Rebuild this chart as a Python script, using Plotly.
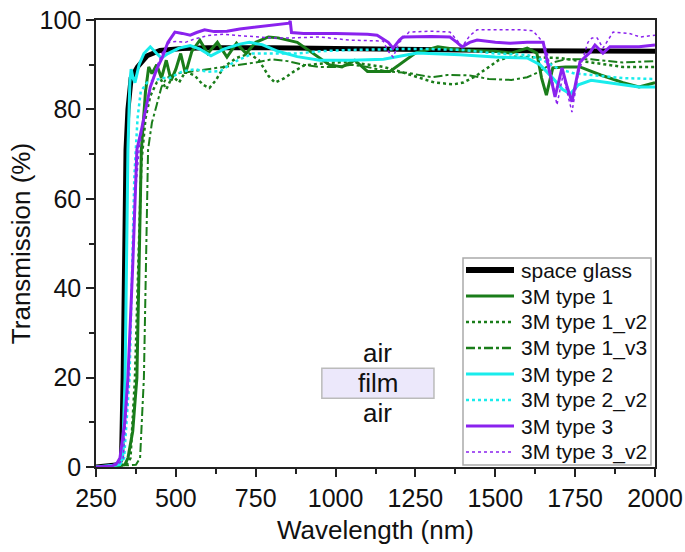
import plotly.graph_objects as go

# Transmission spectra (wavelength in nm, transmission in %)
wl_glass = [250, 300, 320, 330, 335, 344, 350, 360, 380, 410, 450, 520, 600, 800, 1000, 1200, 1400, 1600, 1800, 2000]
t_glass = [0, 0.2, 0.5, 2, 20, 71, 80, 87, 89.5, 92, 93.2, 93.6, 93.8, 93.8, 93.7, 93.5, 93.3, 93.1, 93.0, 93.0]

wl_t1 = [250, 340, 350, 365, 378, 392, 405, 415, 425, 440, 455, 470, 485, 500, 515, 530, 550, 575, 600,
         630, 660, 690, 720, 750, 790, 820, 880, 930, 980, 1020, 1060, 1100, 1170, 1250, 1320, 1390, 1500,
         1550, 1600, 1630, 1645, 1660, 1680, 1720, 1765, 1830, 1900, 1950, 2000]
t_t1 = [0, 0.5, 2, 8, 20, 71, 84, 89.5, 88, 90, 87, 91, 86.5, 89, 92.5, 88, 93, 95.5, 92.5,
        95, 91.7, 94.8, 92.5, 95, 96.2, 96, 95, 92.5, 90, 89.5, 91, 88.5, 88.5, 92.6, 94, 93.3, 93,
        92.6, 93.7, 92.6, 87, 83.2, 89.3, 89.5, 89.5, 87.7, 86, 85, 86]

wl_t1v2 = [250, 345, 358, 372, 392, 405, 420, 440, 455, 470, 490, 510, 530, 560, 585, 605, 625, 650, 690,
           730, 760, 790, 810, 840, 870, 900, 950, 1000, 1045, 1110, 1150, 1200, 1250, 1310, 1370, 1400,
           1440, 1480, 1510, 1550, 1600, 1700, 1800, 1850, 1900, 2000]
t_t1v2 = [0, 0.5, 2, 20, 68, 78, 83, 86, 86.5, 84.5, 87.5, 86, 88.5, 87.5, 85.5, 84.8, 86.5, 89.5, 91.5,
          92.5, 91, 87.5, 86, 87, 88.5, 89.8, 90.2, 90.5, 90.6, 90, 89.5, 88.5, 87.3, 86, 85.6, 86,
          87.5, 89.5, 91, 91.8, 91.7, 91.5, 90.5, 90, 89.5, 89.5]

wl_t1v3 = [250, 375, 388, 400, 413, 425, 440, 455, 470, 500, 550, 600, 650, 700, 750, 800, 850, 900, 950,
           1000, 1050, 1100, 1160, 1223, 1300, 1350, 1420, 1480, 1550, 1600, 1640, 1680, 1720, 1800, 1900, 2000]
t_t1v3 = [0, 0.5, 2, 20, 71, 77, 81, 85, 87, 88, 88.5, 89, 89.5, 90, 90.5, 91.2, 90.8, 90, 89.5,
          89.5, 90, 89.5, 88.5, 88.2, 87.2, 87.7, 87.6, 86.8, 86.6, 87.2, 88.5, 90.5, 91.2, 91.2, 90.5, 90.8]

wl_t2 = [250, 322, 333, 341, 350, 356, 360, 366, 372, 385, 400, 420, 440, 455, 475, 510, 545, 575, 610,
         650, 700, 730, 770, 820, 880, 950, 1050, 1150, 1255, 1390, 1500, 1600, 1640, 1680, 1710, 1735,
         1760, 1800, 1850, 1950, 2000]
t_t2 = [0, 0.5, 2, 20, 71, 86, 89, 87, 86, 90, 92.5, 94, 92.5, 91.5, 92.5, 93.7, 94.3, 93.5, 92,
        93.5, 94.6, 95, 94.5, 93, 91.8, 91, 91, 91.2, 92.6, 92.2, 91.7, 91.5, 90, 87, 84.5, 83.5,
        85.5, 86.5, 86, 85, 85]

wl_t2v2 = [250, 325, 338, 355, 370, 380, 390, 410, 430, 460, 480, 520, 560, 600, 640, 680, 740, 800,
           880, 950, 1050, 1200, 1300, 1400, 1500, 1600, 1650, 1700, 1750, 1800, 1900, 2000]
t_t2v2 = [0, 0.5, 2, 20, 65, 78, 84, 86, 86.5, 87, 87, 88.5, 89, 88.4, 88.6, 90.5, 92.5, 92.5,
          92.5, 93, 93.3, 93.5, 93.5, 93.3, 92.5, 92.2, 91, 89, 88, 87.7, 87, 86.8]

wl_t3 = [250, 300, 315, 325, 340, 350, 365, 378, 394, 420, 440, 457, 475, 497, 520, 545, 565, 590, 620,
         660, 700, 760, 820, 855, 858, 862, 900, 1000, 1100, 1130, 1165, 1180, 1200, 1211, 1300, 1358,
         1380, 1396, 1420, 1443, 1500, 1546, 1600, 1650, 1665, 1687, 1709, 1725, 1740, 1765, 1797, 1812,
         1837, 1859, 1891, 1950, 2000]
t_t3 = [0, 0.2, 0.8, 2, 10, 20, 45, 71, 76, 85, 89, 91.5, 95, 97.3, 97, 96.6, 97.2, 97.8, 97.4,
        97.5, 98, 98.5, 99, 99.3, 99.8, 97.2, 97, 97, 96.8, 96.6, 95, 93.7, 95.5, 96.2, 96.3, 96.2,
        95, 94, 95, 95.5, 95, 94.8, 95, 95, 90, 82.8, 89.3, 85, 81.7, 90.6, 92.8, 94.4,
        92.6, 94, 94, 94, 94.4]

wl_t3v2 = [250, 320, 335, 352, 372, 385, 400, 420, 440, 460, 480, 500, 530, 560, 600, 650, 700, 750, 800,
           864, 950, 1045, 1149, 1165, 1180, 1200, 1230, 1300, 1358, 1380, 1396, 1420, 1443, 1515, 1578,
           1618, 1650, 1662, 1693, 1712, 1740, 1760, 1790, 1803, 1819, 1837, 1869, 1920, 1953, 2000]
t_t3v2 = [0, 0.5, 2, 20, 60, 71, 78, 85, 89.5, 93, 95, 95.2, 95, 95.8, 96.5, 96.8, 96.5, 96.2, 96,
          96, 96.2, 95.5, 95.3, 93, 91.7, 95, 97.3, 97.5, 97.3, 95.5, 94, 96.5, 97.8, 97.8, 97.8,
          97.6, 95, 92.8, 81, 87.7, 79.4, 88, 95, 96, 96, 93.7, 97.3, 97, 96.2, 96.6]

GREEN = "#1a7d1a"
CYAN = "#19ecec"
PURPLE = "#8a22ee"

# name, x, y, trace line style, key-sample line width
series = [
    ("space glass", wl_glass, t_glass, dict(color="black", width=5, dash="solid"), 6),
    ("3M type 1", wl_t1, t_t1, dict(color=GREEN, width=3, dash="solid"), 3),
    ("3M type 1_v2", wl_t1v2, t_t1v2, dict(color=GREEN, width=2.5, dash="dot"), 2.5),
    ("3M type 1_v3", wl_t1v3, t_t1v3, dict(color=GREEN, width=2, dash="dashdot"), 2.5),
    ("3M type 2", wl_t2, t_t2, dict(color=CYAN, width=3, dash="solid"), 3),
    ("3M type 2_v2", wl_t2v2, t_t2v2, dict(color=CYAN, width=2.5, dash="dot"), 2.5),
    ("3M type 3", wl_t3, t_t3, dict(color=PURPLE, width=3, dash="solid"), 3),
    ("3M type 3_v2", wl_t3v2, t_t3v2, dict(color=PURPLE, width=1.5, dash="dot"), 1.5),
]

fig = go.Figure()
for name, x, y, line, _ in series:
    fig.add_trace(go.Scatter(x=x, y=y, mode="lines", name=name, line=line, showlegend=False))

FONT = "Liberation Sans, Arial, sans-serif"

axis_common = dict(
    showgrid=False, zeroline=False, showline=True, linecolor="#222", linewidth=1.5,
    mirror=True, ticks="outside", ticklen=8, tickwidth=1.5, tickcolor="#222",
    tickfont=dict(size=25, color="#111", family=FONT), automargin=False,
)

fig.update_layout(
    width=685, height=552,
    margin=dict(l=96, r=30, t=20, b=85),
    paper_bgcolor="white", plot_bgcolor="white",
    font=dict(family=FONT, color="#111"),
    xaxis=dict(
        range=[250, 2000], tickmode="array",
        tickvals=[250, 500, 750, 1000, 1250, 1500, 1750, 2000],
        minor=dict(tickvals=[375, 625, 875, 1125, 1375, 1625, 1875], ticks="outside",
                   ticklen=5, tickwidth=1.5, tickcolor="#222"),
        title=dict(text="Wavelength (nm)", font=dict(size=26, family=FONT), standoff=10),
        **axis_common,
    ),
    yaxis=dict(
        range=[0, 100], tickmode="array", tickvals=[0, 20, 40, 60, 80, 100],
        minor=dict(tickvals=[10, 30, 50, 70, 90], ticks="outside",
                   ticklen=5, tickwidth=1.5, tickcolor="#222"),
        title=dict(text="Transmission (%)", font=dict(size=26, family=FONT), standoff=1),
        **axis_common,
    ),
    showlegend=False,
)

# Key box in the lower right of the plotting area (paper coordinates)
PLOT_L, PLOT_W, PLOT_B, PLOT_H = 96, 559, 467, 447


def px_x(p):
    return (p - PLOT_L) / PLOT_W


def px_y(p):
    return (PLOT_B - p) / PLOT_H


fig.add_shape(type="rect", xref="paper", yref="paper",
              x0=px_x(463), x1=px_x(651), y0=px_y(465), y1=px_y(258),
              fillcolor="white", line=dict(color="#aaaaaa", width=1.5))
for i, (name, _, _, line, key_w) in enumerate(series):
    row = 270 + 26 * i
    fig.add_shape(type="line", xref="paper", yref="paper",
                  x0=px_x(466), x1=px_x(514), y0=px_y(row), y1=px_y(row),
                  line=dict(color=line["color"], width=key_w, dash=line["dash"]))
    fig.add_annotation(x=px_x(519), y=px_y(row), xref="paper", yref="paper",
                       text=name, showarrow=False, xanchor="left", yanchor="middle",
                       font=dict(size=21, family=FONT, color="#111"))

# Film stack sketch: air / film / air
fig.add_shape(type="rect", xref="x", yref="y", x0=957, x1=1308, y0=15.4, y1=22.1,
              fillcolor="#ece8fb", line=dict(color="#bbbbbb", width=1.5))
for label, yv in [("air", 25.6), ("film", 18.75), ("air", 12.0)]:
    fig.add_annotation(x=1132, y=yv, xref="x", yref="y", text=label, showarrow=False,
                       font=dict(size=26, family=FONT, color="#111"))

fig.write_html("out.html")
